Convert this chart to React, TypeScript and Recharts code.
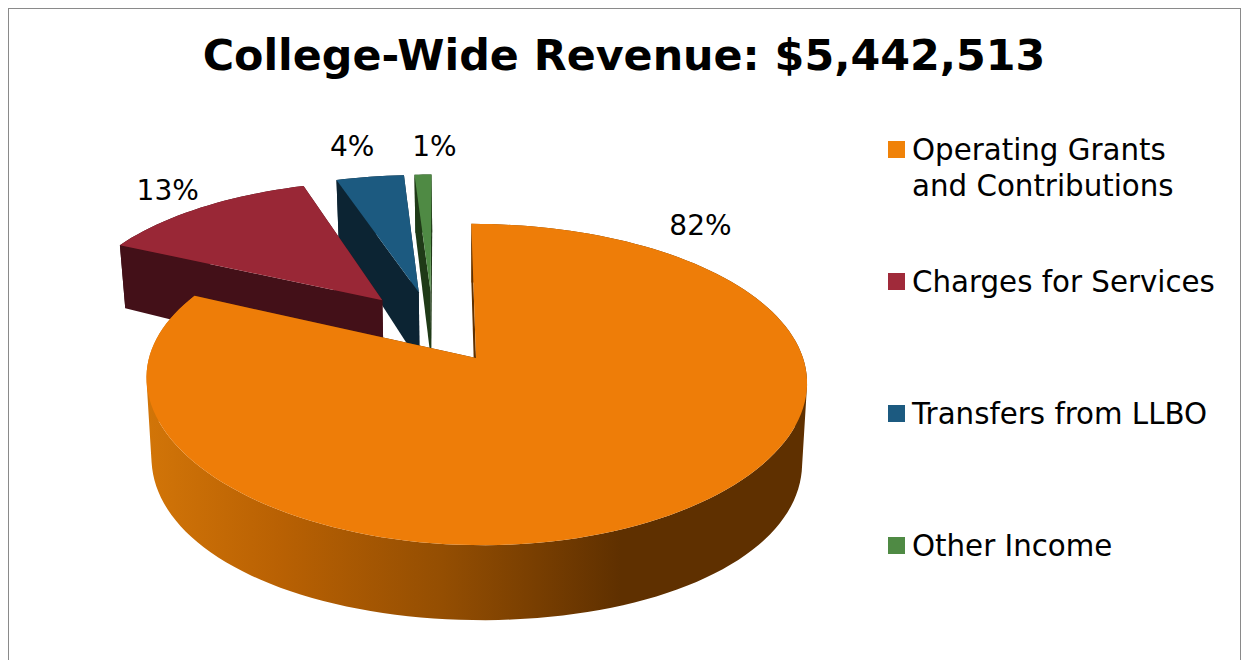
import React from "react";
import { PieChart, Pie, Legend } from "recharts";

const TITLE = "College-Wide Revenue: $5,442,513";
// Listed counter-clockwise from 12 o'clock, so that the big slice paints last.
const categories = ["Other Income", "Transfers from LLBO", "Charges for Services", "Operating Grants and Contributions"];
const shares = [1, 4, 13, 82];
const topColors = ["#4F8A44", "#1C5A80", "#992736", "#EE7D08"];
const wallColors = ["#1F3A17", "#0C2433", "#431018", "#5F3000"];
const legendColors = ["#4F8A44", "#1C5A80", "#A02A3A", "#F08208"];
// Label placement in the slice's own plane: fraction of the slice's sweep, and radius factor.
const labelSweep = [1.123, 0.455, 0.51, 0.131];
const labelRadius = [1.305, 1.335, 1.22, 1.278];

const FONT = "'DejaVu Sans', Verdana, sans-serif";
const FLATTEN = 0.478;
const PERSPECTIVE_Y = 0.165;
const PERSPECTIVE_X = 0.14;
const LEAN = 0.035;
const EXPLODE = 0.247;
const WALL_SCALE = 0.985;

const tableData = categories.map((name, i) => ({ name, value: shares[i], fill: legendColors[i], idx: i }));

const rad = (d: number) => (d * Math.PI) / 180;

// Angle of the middle of the largest slice, which is the origin of the drawing.
const total = shares.reduce((a, b) => a + b, 0);
const largestStart = 90 + (360 * (total - shares[shares.length - 1])) / total;
const refMid = (largestStart + 450) / 2;

function planeOffset(mid: number) {
  return {
    u: EXPLODE * (Math.cos(rad(mid)) - Math.cos(rad(refMid))),
    v: EXPLODE * (Math.sin(rad(mid)) - Math.sin(rad(refMid))),
  };
}

// Height of the side wall at a given height of the upper face on screen.
function wallDrop(Y: number) {
  const d = Y + 27;
  return Math.max(58, 80 - 0.05 * d - 0.000509 * d * d);
}

function project(cx: number, cy: number, R: number, u: number, v: number, low: boolean) {
  const X = (R * u) / (1 + PERSPECTIVE_X * v);
  const Y = (R * FLATTEN * v) / (1 + PERSPECTIVE_Y * v);
  const x = cx + X - LEAN * Y;
  if (!low) return [x, cy - Y];
  const vp = cx + 1;
  return [vp + (x - vp) * WALL_SCALE, cy - Y + wallDrop(Y)];
}

const toPath = (pts: number[][]) =>
  "M" + pts.map((p) => `${p[0].toFixed(2)},${p[1].toFixed(2)}`).join("L") + "Z";

// Same winding for every piece, so that overlapping pieces of the wall all fill.
function wound(pts: number[][]) {
  let area = 0;
  pts.forEach((p, i) => {
    const q = pts[(i + 1) % pts.length];
    area += p[0] * q[1] - q[0] * p[1];
  });
  return area < 0 ? pts.slice().reverse() : pts;
}

function SliceShape(props: any) {
  const { cx, cy, outerRadius: R, startAngle, endAngle, payload } = props;
  const idx = payload?.idx ?? props.idx ?? 0;
  const mid = (startAngle + endAngle) / 2;
  const off = planeOffset(mid);
  const rimAngles: number[] = [];
  const steps = Math.max(4, Math.ceil(Math.abs(endAngle - startAngle) / 2));
  for (let i = 0; i <= steps; i++) rimAngles.push(startAngle + ((endAngle - startAngle) * i) / steps);
  const rim = (low: boolean) =>
    rimAngles.map((a) => project(cx, cy, R, off.u + Math.cos(rad(a)), off.v + Math.sin(rad(a)), low));
  const apexTop = project(cx, cy, R, off.u, off.v, false);
  const apexLow = project(cx, cy, R, off.u, off.v, true);
  const top = rim(false);
  const low = rim(true);
  const wall = wallColors[idx];
  const gradId = `rim-${idx}`;
  const ribbon = top
    .slice(0, -1)
    .map((p, i) => toPath(wound([p, top[i + 1], low[i + 1], low[i]])))
    .join("");
  return (
    <g>
      <defs>
        <linearGradient id={gradId} gradientUnits="userSpaceOnUse" x1={cx - 330} x2={cx + 330} y1={0} y2={0}>
          <stop offset="0" stopColor="#D27508" />
          <stop offset="0.2" stopColor="#B96103" />
          <stop offset="0.45" stopColor="#944E02" />
          <stop offset="0.72" stopColor={wall} />
          <stop offset="1" stopColor={wall} />
        </linearGradient>
      </defs>
      <path d={ribbon} fill={idx === shares.length - 1 ? `url(#${gradId})` : wall} />
      <path d={toPath([top[0], apexTop, apexLow, low[0]])} fill={wall} />
      <path d={toPath([top[top.length - 1], apexTop, apexLow, low[low.length - 1]])} fill={wall} />
      <path d={toPath([apexTop, ...top])} fill={topColors[idx]} />
    </g>
  );
}

function SliceLabel(props: any) {
  const { cx, cy, outerRadius: R, startAngle, endAngle, index, value } = props;
  const off = planeOffset((startAngle + endAngle) / 2);
  const a = endAngle - (endAngle - startAngle) * labelSweep[index];
  const r = labelRadius[index];
  const [x, y] = project(cx, cy, R, off.u + r * Math.cos(rad(a)), off.v + r * Math.sin(rad(a)), false);
  return (
    <text x={x} y={y + 1.5} textAnchor="middle" dominantBaseline="central" fontFamily={FONT} fontSize={28} fill="#000">
      {`${value}%`}
    </text>
  );
}

function LegendList(props: any) {
  const items = [...(props.payload ?? [])].reverse();
  return (
    <div style={{ fontFamily: FONT, fontSize: 29.3, lineHeight: "36px", color: "#000" }}>
      {items.map((it: any, i: number) => (
        <div key={it.value} style={{ position: "absolute", left: 0, top: 132 * i, display: "flex", width: 345 }}>
          <span style={{ width: 17, height: 17, background: it.color, marginTop: 9, marginRight: 7, flex: "none" }} />
          <span style={{ width: 312, whiteSpace: "normal" }}>{it.value}</span>
        </div>
      ))}
    </div>
  );
}

export default function App() {
  return (
    <div
      style={{
        position: "absolute",
        left: 8,
        top: 8,
        width: 1231,
        height: 651,
        borderTop: "1px solid #8a8a8a",
        borderLeft: "1px solid #8a8a8a",
        borderRight: "1px solid #8a8a8a",
        boxSizing: "content-box",
      }}
    >
      <PieChart width={1231} height={651} margin={{ top: 0, right: 0, bottom: 0, left: 0 }}>
        <text x={615} y={46} textAnchor="middle" dominantBaseline="central" fontFamily={FONT} fontWeight="bold" fontSize={42.8} fill="#000">
          {TITLE}
        </text>
        <Pie
          data={tableData}
          dataKey="value"
          nameKey="name"
          cx={467}
          cy={349}
          outerRadius={327}
          startAngle={90}
          endAngle={450}
          stroke="none"
          isAnimationActive={false}
          shape={SliceShape}
          label={SliceLabel}
          labelLine={false}
        />
        <Legend
          layout="vertical"
          align="right"
          verticalAlign="middle"
          itemSorter={null}
          content={LegendList}
          wrapperStyle={{ position: "absolute", left: 879, top: 123, right: "auto", bottom: "auto", width: 345 }}
        />
      </PieChart>
    </div>
  );
}
